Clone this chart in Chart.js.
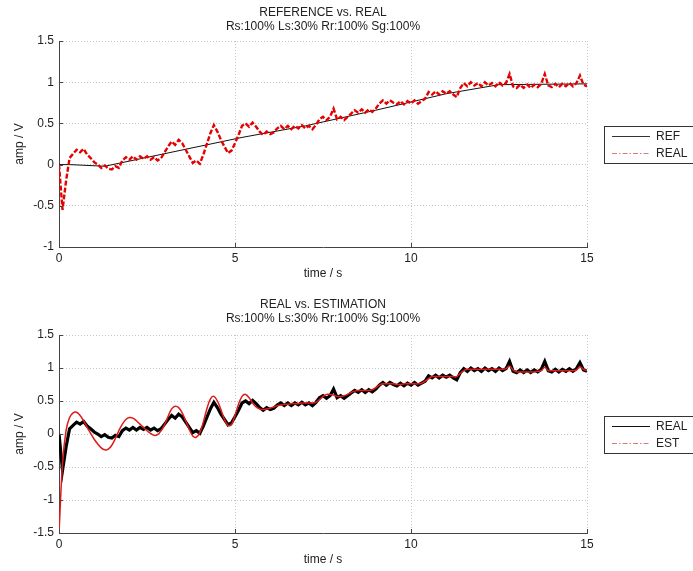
<!DOCTYPE html>
<html>
<head>
<meta charset="utf-8">
<script src="https://cdn.jsdelivr.net/npm/chart.js@4/dist/chart.umd.min.js"></script>
<style>
  body { margin: 0; background: #fff; }
  canvas { position: absolute; left: 0; }
  #top { top: 0; }
  #bottom { top: 291px; }
</style>
</head>
<body>
<canvas id="top" width="693" height="285"></canvas>
<canvas id="bottom" width="693" height="280"></canvas>
<script>
// sampling step of the measured signals (s)
const DT = 0.1;

// measured signal (REAL), one value every 0.1 s from 0 to 15 s
const REAL = [
  0.00, -0.55, -0.20, 0.08, 0.13, 0.18, 0.15, 0.19, 0.12, 0.08,
  0.03, 0.00, -0.04, -0.01, -0.05, -0.06, -0.02, -0.04, 0.05, 0.09,
  0.06, 0.10, 0.06, 0.10, 0.07, 0.10, 0.06, 0.09, 0.05, 0.08,
  0.15, 0.22, 0.28, 0.24, 0.30, 0.26, 0.18, 0.10, 0.02, 0.05,
  0.01, 0.12, 0.25, 0.38, 0.48, 0.40, 0.30, 0.22, 0.14, 0.17,
  0.26, 0.36, 0.47, 0.50, 0.46, 0.51, 0.46, 0.40, 0.36, 0.40,
  0.37, 0.39, 0.44, 0.47, 0.43, 0.47, 0.43, 0.47, 0.44, 0.48,
  0.44, 0.47, 0.43, 0.48, 0.55, 0.58, 0.54, 0.58, 0.68, 0.55,
  0.58, 0.54, 0.58, 0.62, 0.66, 0.63, 0.67, 0.63, 0.67, 0.64,
  0.68, 0.74, 0.78, 0.74, 0.78, 0.75, 0.73, 0.77, 0.73, 0.77,
  0.74, 0.78, 0.74, 0.77, 0.80, 0.88, 0.85, 0.89, 0.85, 0.89,
  0.86, 0.89, 0.85, 0.82, 0.93, 0.99, 0.95, 1.00, 0.96, 0.99,
  0.95, 1.00, 0.96, 0.99, 0.95, 1.00, 0.96, 0.99, 1.10, 0.95,
  0.93, 0.97, 0.93, 0.97, 0.93, 0.97, 0.94, 0.98, 1.10, 0.96,
  0.94, 0.98, 0.94, 0.98, 0.95, 0.99, 0.95, 0.99, 1.08, 0.97,
  0.95
];

// estimation (EST), same time grid
const EST = [
  -1.50, -0.45, 0.05, 0.25, 0.32, 0.33, 0.28, 0.20, 0.10, 0.01,
  -0.08, -0.15, -0.21, -0.24, -0.23, -0.17, -0.07, 0.05, 0.15, 0.22,
  0.25, 0.24, 0.20, 0.15, 0.10, 0.05, 0.01, -0.02, -0.01, 0.05,
  0.14, 0.27, 0.38, 0.42, 0.40, 0.32, 0.20, 0.07, -0.03, -0.05,
  0.02, 0.18, 0.38, 0.53, 0.57, 0.50, 0.37, 0.22, 0.13, 0.14,
  0.28, 0.45, 0.57, 0.60, 0.55, 0.47, 0.41, 0.38, 0.37, 0.38,
  0.39, 0.41, 0.43, 0.44, 0.45, 0.45, 0.46, 0.46, 0.46, 0.47,
  0.47, 0.47, 0.47, 0.48, 0.52, 0.57, 0.60, 0.60, 0.59, 0.57,
  0.57, 0.58, 0.60, 0.63, 0.65, 0.66, 0.66, 0.66, 0.66, 0.67,
  0.70, 0.74, 0.76, 0.76, 0.76, 0.76, 0.75, 0.75, 0.76, 0.76,
  0.76, 0.76, 0.76, 0.77, 0.80, 0.84, 0.87, 0.87, 0.87, 0.87,
  0.87, 0.87, 0.87, 0.87, 0.92, 0.96, 0.98, 0.98, 0.98, 0.98,
  0.98, 0.98, 0.98, 0.98, 0.98, 0.98, 0.98, 0.99, 1.03, 0.97,
  0.94, 0.94, 0.94, 0.94, 0.94, 0.94, 0.95, 0.96, 1.01, 0.96,
  0.96, 0.96, 0.96, 0.96, 0.96, 0.96, 0.96, 0.97, 1.02, 0.98,
  0.96
];

// reference ramp (REF), break points only
const REF_T = [0, 0.3, 1.3, 5.2, 7, 9, 11, 12.5, 15];
const REF_V = [0, 0, -0.02, 0.33, 0.47, 0.66, 0.86, 0.97, 0.98];

const X_TICKS = [0, 5, 10, 15];

const FONT = '"Liberation Sans", Arial, Helvetica, sans-serif';
const TXT = '#222';

const toXY = (vals) => vals.map((v, i) => ({ x: +(i * DT).toFixed(1), y: v }));
const refXY = REF_T.map((t, i) => ({ x: t, y: REF_V[i] }));

// MATLAB style ticks pointing into the plot
const innerTicks = {
  id: 'innerTicks',
  afterDatasetsDraw(chart) {
    const { ctx, chartArea: a, scales: { x, y } } = chart;
    ctx.save();
    ctx.strokeStyle = '#444';
    ctx.lineWidth = 1;
    ctx.beginPath();
    x.ticks.forEach(t => {
      const px = Math.round(x.getPixelForValue(t.value)) + 0.5;
      ctx.moveTo(px, a.bottom); ctx.lineTo(px, a.bottom - 4);
    });
    y.ticks.forEach(t => {
      const py = Math.round(y.getPixelForValue(t.value)) + 0.5;
      ctx.moveTo(a.left, py); ctx.lineTo(a.left + 4, py);
    });
    ctx.stroke();
    ctx.restore();
  }
};

// boxed legend to the right of the plot
const boxLegend = {
  id: 'boxLegend',
  afterDraw(chart, args, opts) {
    const { ctx, chartArea: a } = chart;
    const top = Math.round((a.top + a.bottom) / 2 - 18);
    const x0 = Math.round(a.right + 17);
    ctx.save();
    ctx.fillStyle = '#fff';
    ctx.fillRect(x0, top, 120, 37);
    ctx.strokeStyle = '#333';
    ctx.lineWidth = 1;
    ctx.strokeRect(x0 + 0.5, top + 0.5, 120, 37);
    ctx.font = '12px ' + FONT;
    ctx.textBaseline = 'middle';
    opts.items.forEach((it, i) => {
      const y = top + 10 + i * 17 + 0.5;
      ctx.strokeStyle = it.color;
      ctx.lineWidth = 1;
      ctx.setLineDash(it.dash);
      ctx.beginPath();
      ctx.moveTo(x0 + 8, y); ctx.lineTo(x0 + 46, y);
      ctx.stroke();
      ctx.setLineDash([]);
      ctx.fillStyle = TXT;
      ctx.fillText(it.label, x0 + 52, y);
    });
    ctx.restore();
  }
};

function makeChart(id, datasets, titleLines, yMin, titlePad, legendItems) {
  return new Chart(document.getElementById(id), {
    type: 'line',
    data: { datasets },
    plugins: [innerTicks, boxLegend],
    options: {
      responsive: false,
      animation: false,
      layout: { padding: { top: 0, right: 106, bottom: 0, left: 0 } },
      elements: { point: { radius: 0 } },
      plugins: {
        legend: { display: false },
        tooltip: { enabled: false },
        title: {
          display: true,
          fullSize: false,
          text: titleLines,
          color: TXT,
          font: { family: FONT, size: 12, weight: 'normal' },
          padding: titlePad
        },
        boxLegend: { items: legendItems }
      },
      scales: {
        x: {
          type: 'linear',
          min: 0,
          max: 15,
          afterBuildTicks: s => { s.ticks = X_TICKS.map(v => ({ value: v })); },
          afterFit: s => { s.height = 38; },
          ticks: { color: TXT, font: { family: FONT, size: 12 }, padding: 4 },
          grid: { color: '#c4c4c4', drawTicks: false },
          border: { color: '#444', width: 1, dash: [1, 2] },
          title: {
            display: true, text: 'time / s', color: TXT,
            font: { family: FONT, size: 12 }, padding: { top: 0, bottom: 3.8 }
          }
        },
        y: {
          type: 'linear',
          min: yMin,
          max: 1.5,
          afterFit: s => { s.width = 59; },
          ticks: {
            stepSize: 0.5, color: TXT, font: { family: FONT, size: 12 }, padding: 5,
            callback: v => String(v)
          },
          grid: { color: '#c4c4c4', drawTicks: false },
          border: { color: '#444', width: 1, dash: [1, 2] },
          title: {
            display: true, text: 'amp / V', color: TXT,
            font: { family: FONT, size: 12 }, padding: { top: 12.8, bottom: 0 }
          }
        }
      }
    }
  });
}

// top: reference vs. measured
makeChart('top', [
  { label: 'REF', data: refXY, borderColor: '#111', borderWidth: 1, order: 1 },
  { label: 'REAL', data: toXY(REAL), borderColor: 'rgb(230,0,0)', borderWidth: 2.4,
    borderDash: [5, 2], order: 0 }
], ['REFERENCE vs. REAL', 'Rs:100% Ls:30% Rr:100% Sg:100%'], -1,
  { top: 5, bottom: 7.2 },
  [{ label: 'REF', color: '#333', dash: [] },
   { label: 'REAL', color: 'rgb(220,120,120)', dash: [5, 2, 1.5, 2] }]);

// bottom: measured vs. estimation
makeChart('bottom', [
  { label: 'REAL', data: toXY(REAL), borderColor: '#000', borderWidth: 3.2, order: 1 },
  { label: 'EST', data: toXY(EST), borderColor: 'rgb(225,25,25)', borderWidth: 1.5,
    tension: 0.35, order: 0 }
], ['REAL vs. ESTIMATION', 'Rs:100% Ls:30% Rr:100% Sg:100%'], -1.5,
  { top: 6.5, bottom: 8.7 },
  [{ label: 'REAL', color: '#111', dash: [] },
   { label: 'EST', color: 'rgb(220,120,120)', dash: [5, 2, 1.5, 2] }]);
</script>
</body>
</html>
